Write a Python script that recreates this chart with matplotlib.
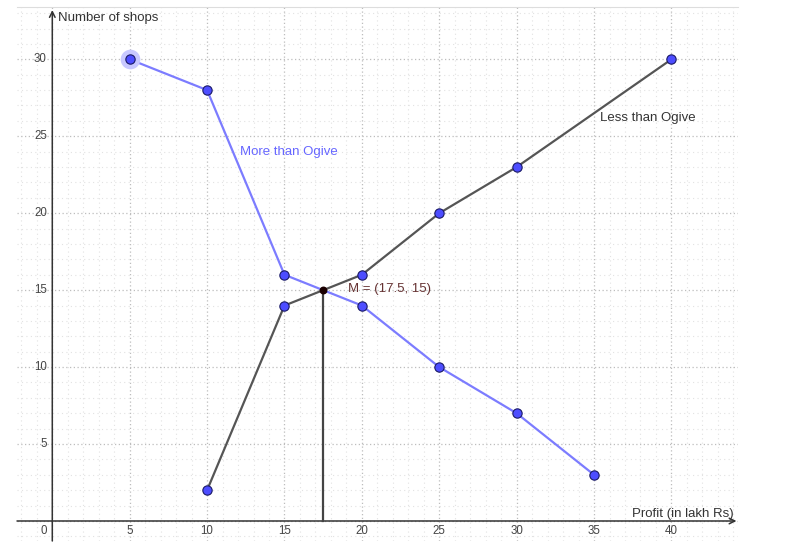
import numpy as np
import matplotlib
matplotlib.use('Agg')
import matplotlib.pyplot as plt

plt.rcParams['font.family'] = ['Liberation Sans', 'DejaVu Sans']

# data
less_x = [10, 15, 20, 25, 30, 40]
less_y = [2, 14, 16, 20, 23, 30]
more_x = [5, 10, 15, 20, 25, 30, 35]
more_y = [30, 28, 16, 14, 10, 7, 3]
median_x, median_y = 17.5, 15
x_ticks = [5, 10, 15, 20, 25, 30, 35, 40]
y_ticks = [5, 10, 15, 20, 25, 30]

fig = plt.figure(figsize=(8.06, 5.53), dpi=100)
ax = fig.add_axes([17/806, 12/553, 721/806, 534/553])
ax.set_xlim(-2.28, 44.3)
ax.set_ylim(-1.3, 33.4)

# grid: minor every 1, major every 5
for v in np.arange(-2, 45, 1):
    if v % 5:
        ax.axvline(v, color='#e2e2e2', lw=0.8, ls=(0, (1, 3)), zorder=0)
    else:
        ax.axvline(v, color='#bdbdbd', lw=0.9, ls=(0, (1, 2)), zorder=0)
for v in np.arange(-1, 34, 1):
    if v % 5:
        ax.axhline(v, color='#e2e2e2', lw=0.8, ls=(0, (1, 3)), zorder=0)
    else:
        ax.axhline(v, color='#bdbdbd', lw=0.9, ls=(0, (1, 2)), zorder=0)

for s in ['left', 'right', 'bottom']:
    ax.spines[s].set_visible(False)
ax.spines['top'].set_color('#dddddd')
ax.set_xticks([]); ax.set_yticks([])

# axes with arrows
ax.annotate('', xy=(44.2, 0), xytext=(-2.28, 0),
            arrowprops=dict(arrowstyle='->', color='#333333', lw=1.1, shrinkA=0, shrinkB=0))
ax.annotate('', xy=(0, 33.2), xytext=(0, -1.3),
            arrowprops=dict(arrowstyle='->', color='#333333', lw=1.1, shrinkA=0, shrinkB=0))

for t in x_ticks:
    ax.text(t, -0.65, str(t), ha='center', va='center', fontsize=8.3, color='#444444')
for t in y_ticks:
    ax.text(-0.35, t, str(t), ha='right', va='center', fontsize=8.3, color='#444444')
ax.text(-0.35, -0.65, '0', ha='right', va='center', fontsize=8.3, color='#444444')

ax.text(0.35, 32.7, 'Number of shops', fontsize=9.5, color='#333333', va='center')
ax.text(44.0, 0.45, 'Profit (in lakh Rs)', fontsize=9.5, color='#333333',
        ha='right', va='center')

# ogives
ax.plot(more_x, more_y, color='#7c7cff', lw=1.6, zorder=3)
ax.plot(less_x, less_y, color='#555555', lw=1.6, zorder=3)
ax.plot([median_x, median_x], [0.0, median_y], color='#444444', lw=1.6, zorder=3)

ax.scatter(more_x[:1], more_y[:1], s=200, color='#c8c8ff', zorder=4, lw=0)
ax.scatter(more_x, more_y, s=45, color='#4d4dff', edgecolors='#1a1a66', lw=0.8, zorder=5)
ax.scatter(less_x, less_y, s=45, color='#4d4dff', edgecolors='#1a1a66', lw=0.8, zorder=5)
ax.scatter([median_x], [median_y], s=22, color='#1a0000', zorder=6)

ax.text(12.1, 24.0, 'More than Ogive', fontsize=9.5, color='#6666ff', va='center')
ax.text(35.4, 26.2, 'Less than Ogive', fontsize=9.5, color='#333333', va='center')
ax.text(19.1, 15.1, 'M = (17.5, 15)', fontsize=9.5, color='#663333', va='center')

fig.savefig('out.png', dpi=100)
